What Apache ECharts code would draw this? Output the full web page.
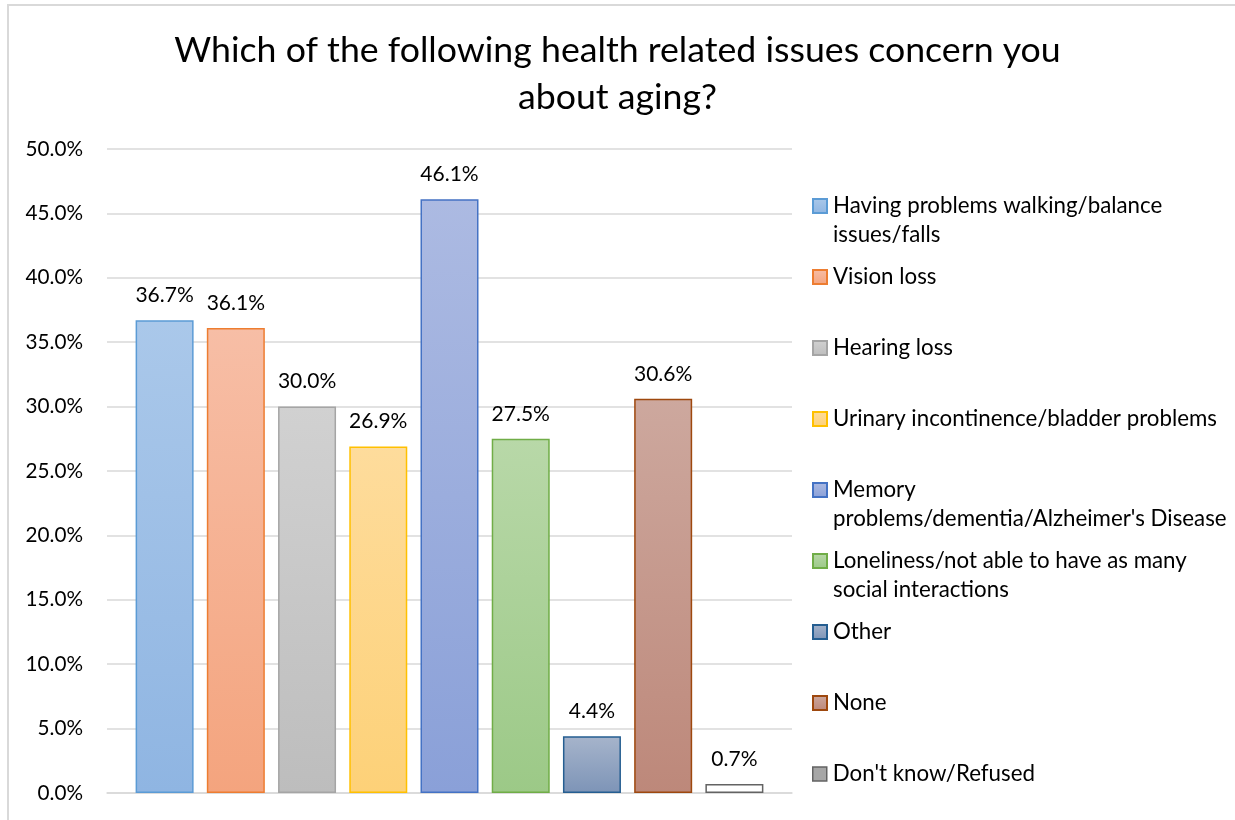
<!DOCTYPE html>
<html>
<head>
<meta charset="utf-8">
<script src="https://cdn.jsdelivr.net/npm/echarts@6/dist/echarts.min.js"></script>
<style>
html,body{margin:0;padding:0;background:#fff;}
#chart{width:1235px;height:820px;}
</style>
</head>
<body>
<div id="chart"></div>
<script>
const titleText = 'Which of the following health related issues concern you\nabout aging?';
const seriesNames = [
  'Having problems walking/balance issues/falls',
  'Vision loss',
  'Hearing loss',
  'Urinary incontinence/bladder problems',
  "Memory problems/dementia/Alzheimer's Disease",
  'Loneliness/not able to have as many social interactions',
  'Other',
  'None',
  "Don't know/Refused"
];
const legendLines = [
  ['Having problems walking/balance', 'issues/falls'],
  ['Vision loss'],
  ['Hearing loss'],
  ['Urinary incontinence/bladder problems'],
  ['Memory', "problems/dementia/Alzheimer's Disease"],
  ['Loneliness/not able to have as many', 'social interactions'],
  ['Other'],
  ['None'],
  ["Don't know/Refused"]
];
const values = [36.7, 36.1, 30.0, 26.9, 46.1, 27.5, 4.4, 30.6, 0.7];
const yMin = 0, yMax = 50, yStep = 5;

// styles
const FONT = 'Lato, "Open Sans", sans-serif';
const fills = [
  ['#aac8ea', '#8fb5e2'],
  ['#f7bea6', '#f4a47e'],
  ['#d1d1d1', '#bdbdbd'],
  ['#fedc9c', '#fdd178'],
  ['#acbae2', '#8aa0d8'],
  ['#b8d8a8', '#9cc987'],
  ['#a6b4cb', '#7d94b7'],
  ['#cda89e', '#bd887a'],
  ['#ffffff', '#ffffff']
];
const borders = ['#5b9bd5', '#ed7d31', '#a5a5a5', '#ffc000', '#4472c4', '#70ad47', '#255e91', '#9e480e', '#636363'];

const chart = echarts.init(document.getElementById('chart'), null, {renderer: 'canvas'});

const series = seriesNames.map((name, i) => ({
  type: 'bar',
  name: name,
  data: [values[i]],
  barWidth: 58,
  barGap: '22.8%',
  itemStyle: {
    color: new echarts.graphic.LinearGradient(0, 0, 0, 1, [
      {offset: 0, color: fills[i][0]},
      {offset: 1, color: fills[i][1]}
    ]),
    borderColor: borders[i],
    borderWidth: 1.5
  },
  label: {
    show: true,
    position: 'top',
    distance: 14.5,
    formatter: p => p.value.toFixed(1) + '%',
    fontFamily: FONT,
    fontSize: 21,
    color: '#000'
  },
  emphasis: {disabled: true},
  animation: false
}));

const legendCenterFirst = 206, legendStep = 71, lineH = 29;
const legends = seriesNames.map((name, i) => {
  const lines = legendLines[i];
  const multi = lines.length > 1;
  const text = multi ? '\n' + lines.join('\n') : lines[0];
  const h = multi ? lineH * (lines.length * 2 - 1) : lineH;
  const cy = legendCenterFirst + legendStep * i;
  const item = {name: name};
  if (i === 8) item.itemStyle = {color: '#a6a6a6', borderColor: '#636363', borderWidth: 1.5};
  return {
    show: true,
    orient: 'vertical',
    left: 812,
    top: cy - h / 2,
    padding: 0,
    itemWidth: 14,
    itemHeight: 14,
    itemGap: 0,
    icon: 'rect',
    selectedMode: false,
    data: [item],
    formatter: () => text,
    textStyle: {fontFamily: FONT, fontSize: 22.3, lineHeight: lineH, color: '#000', padding: [0, 0, 0, 1]}
  };
});

chart.setOption({
  backgroundColor: '#fff',
  animation: false,
  title: {
    text: titleText,
    left: 'center',
    top: 27,
    padding: [0, 0, 0, 5],
    textStyle: {fontFamily: FONT, fontSize: 35.7, fontWeight: 'normal', lineHeight: 47, color: '#000'}
  },
  graphic: [{
    type: 'rect',
    z: -10,
    shape: {x: 8, y: 5, width: 1300, height: 900},
    style: {fill: null, stroke: '#d9d9d9', lineWidth: 2}
  }],
  legend: legends,
  grid: {left: 107, right: 443, top: 149, bottom: 27, containLabel: false},
  xAxis: {
    type: 'category',
    data: [''],
    axisLine: {show: true, lineStyle: {color: '#d9d9d9', width: 1.5}},
    axisTick: {show: false},
    axisLabel: {show: false},
    splitLine: {show: false}
  },
  yAxis: {
    type: 'value',
    min: yMin,
    max: yMax,
    interval: yStep,
    axisLine: {show: false},
    axisTick: {show: false},
    splitLine: {show: true, lineStyle: {color: '#d9d9d9', width: 1.5}},
    axisLabel: {
      margin: 24,
      formatter: v => v.toFixed(1) + '%',
      fontFamily: FONT,
      fontSize: 20.7,
      color: '#000'
    }
  },
  series: series
});
</script>
</body>
</html>
